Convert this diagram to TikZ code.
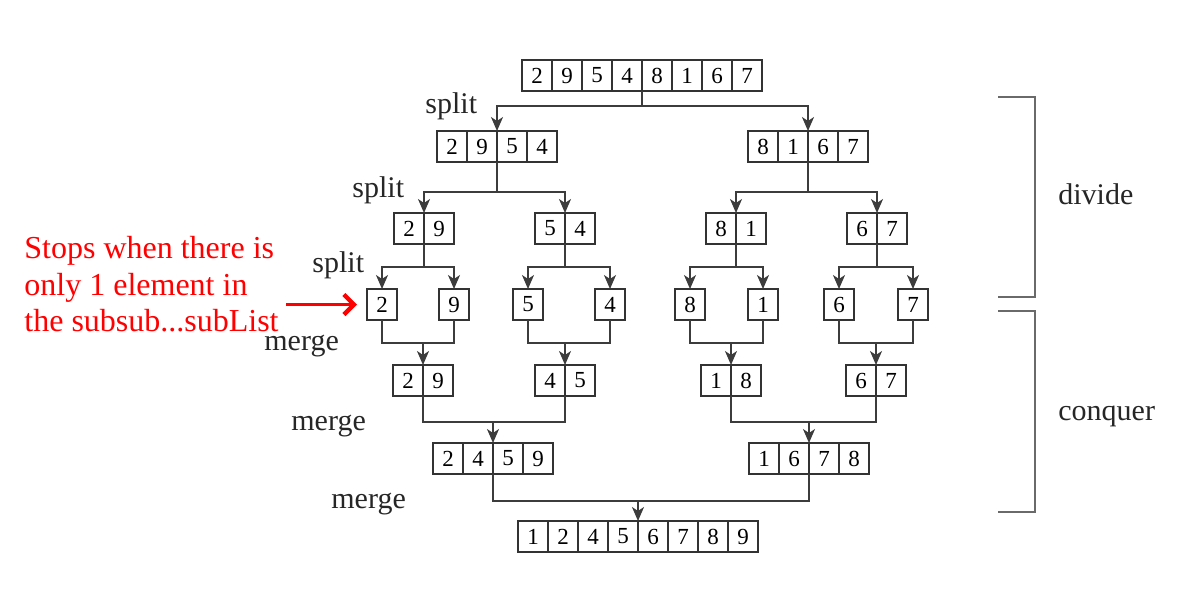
\documentclass[tikz,border=0pt]{standalone}
\usepackage{fontspec}
\setmainfont{Liberation Serif}
\usetikzlibrary{fit}
\usetikzlibrary{arrows.meta}
\definecolor{linkgray}{HTML}{3C3C3C}
\definecolor{bracegray}{HTML}{6A6A6A}
\tikzset{cell/.style={draw=black!80, line width=0.9pt, minimum width=15pt, minimum height=15.5pt, inner sep=0pt, outer sep=0pt, font=\fontsize{11.5}{13}\selectfont},
	link/.style={draw=linkgray, line width=0.9pt},
	arr/.style={link, -{Stealth[length=7pt, width=6pt, inset=2pt]}},
	lbl/.style={anchor=base west, inner sep=0pt, font=\fontsize{15}{18}\selectfont, text=black!85}}
% row of cells: name, center x, top y, count, digits
\newcommand{\cellrow}[5]{%
	\foreach \d [count=\i] in {#5} \node[cell] (#1-\i) at ({#2-#4*15+(\i-0.5)*30}, {#3+15.5}) {\d};
	\node[fit=(#1-1)(#1-#4), inner sep=0pt, outer sep=0pt] (#1) {};}
% parent, gap, left child, right child
\newcommand{\splitto}[4]{%
	\draw[link] (#1.south) -- ++(0,#2) coordinate (#1-s);
	\draw[arr] (#1-s) -| (#3.north);
	\draw[arr] (#1-s) -| (#4.north);}
% left parent, right parent, child, gap
\newcommand{\mergeto}[4]{%
	\coordinate (#3-m) at ([yshift=#4]#3.north);
	\draw[link] (#1.south) |- (#3-m) -| (#2.south);
	\draw[arr] (#3-m) -- (#3.north);}

\begin{document}
\begin{tikzpicture}[x=0.5pt,y=-0.5pt]
	\useasboundingbox (0,0) rectangle (1185,606);
	% divide
	\cellrow{top}{642}{60}{8}{2,9,5,4,8,1,6,7}
	\cellrow{la}{497}{131}{4}{2,9,5,4}
	\cellrow{lb}{808}{131}{4}{8,1,6,7}
	\cellrow{laa}{424}{213}{2}{2,9}
	\cellrow{lab}{565}{213}{2}{5,4}
	\cellrow{lba}{736}{213}{2}{8,1}
	\cellrow{lbb}{877}{213}{2}{6,7}
	\cellrow{one}{382}{289}{1}{2}
	\cellrow{two}{454}{289}{1}{9}
	\cellrow{three}{528}{289}{1}{5}
	\cellrow{four}{610}{289}{1}{4}
	\cellrow{five}{690}{289}{1}{8}
	\cellrow{six}{763}{289}{1}{1}
	\cellrow{seven}{839}{289}{1}{6}
	\cellrow{eight}{913}{289}{1}{7}
	% conquer
	\cellrow{ma}{423}{365}{2}{2,9}
	\cellrow{mb}{565}{365}{2}{4,5}
	\cellrow{mc}{731}{365}{2}{1,8}
	\cellrow{md}{876}{365}{2}{6,7}
	\cellrow{na}{493}{443}{4}{2,4,5,9}
	\cellrow{nb}{809}{443}{4}{1,6,7,8}
	\cellrow{res}{638}{521}{8}{1,2,4,5,6,7,8,9}
	\splitto{top}{15}{la}{lb}
	\splitto{la}{30}{laa}{lab}
	\splitto{lb}{30}{lba}{lbb}
	\splitto{laa}{23}{one}{two}
	\splitto{lab}{23}{three}{four}
	\splitto{lba}{23}{five}{six}
	\splitto{lbb}{23}{seven}{eight}
	\mergeto{one}{two}{ma}{11pt}
	\mergeto{three}{four}{mb}{11pt}
	\mergeto{five}{six}{mc}{11pt}
	\mergeto{seven}{eight}{md}{11pt}
	\mergeto{ma}{mb}{na}{10.5pt}
	\mergeto{mc}{md}{nb}{10.5pt}
	\mergeto{na}{nb}{res}{10pt}
	% labels
	\node[lbl] (sp1) at (425,113) {split};
	\node[lbl] (sp2) at (352,197) {split};
	\node[lbl] (sp3) at (312,272) {split};
	\node[lbl] (mg1) at (264,350) {merge};
	\node[lbl] (mg2) at (291,430) {merge};
	\node[lbl] (mg3) at (331,508) {merge};
	\node[lbl] (dv) at (1058,204) {divide};
	\node[lbl] (cq) at (1058,420) {conquer};
	\draw[draw=bracegray, line width=0.9pt] (998,97) -- (1035,97) -- (1035,297) -- (998,297);
	\draw[draw=bracegray, line width=0.9pt] (998,311) -- (1035,311) -- (1035,512) -- (998,512);
	% note
	\node[anchor=north west, inner sep=0pt, align=left, text=red, font=\fontsize{16}{18.3}\selectfont] (note) at (24,236)
		{Stops when there is\\only 1 element in\\the subsub...subList};
	\draw[red, line width=1.5pt, -{Straight Barb[length=5pt, width=10pt, line width=2.2pt]}] ([xshift=3.5pt]note.east |- one.west) -- ([xshift=-5pt]one.west);
\end{tikzpicture}
\end{document}
